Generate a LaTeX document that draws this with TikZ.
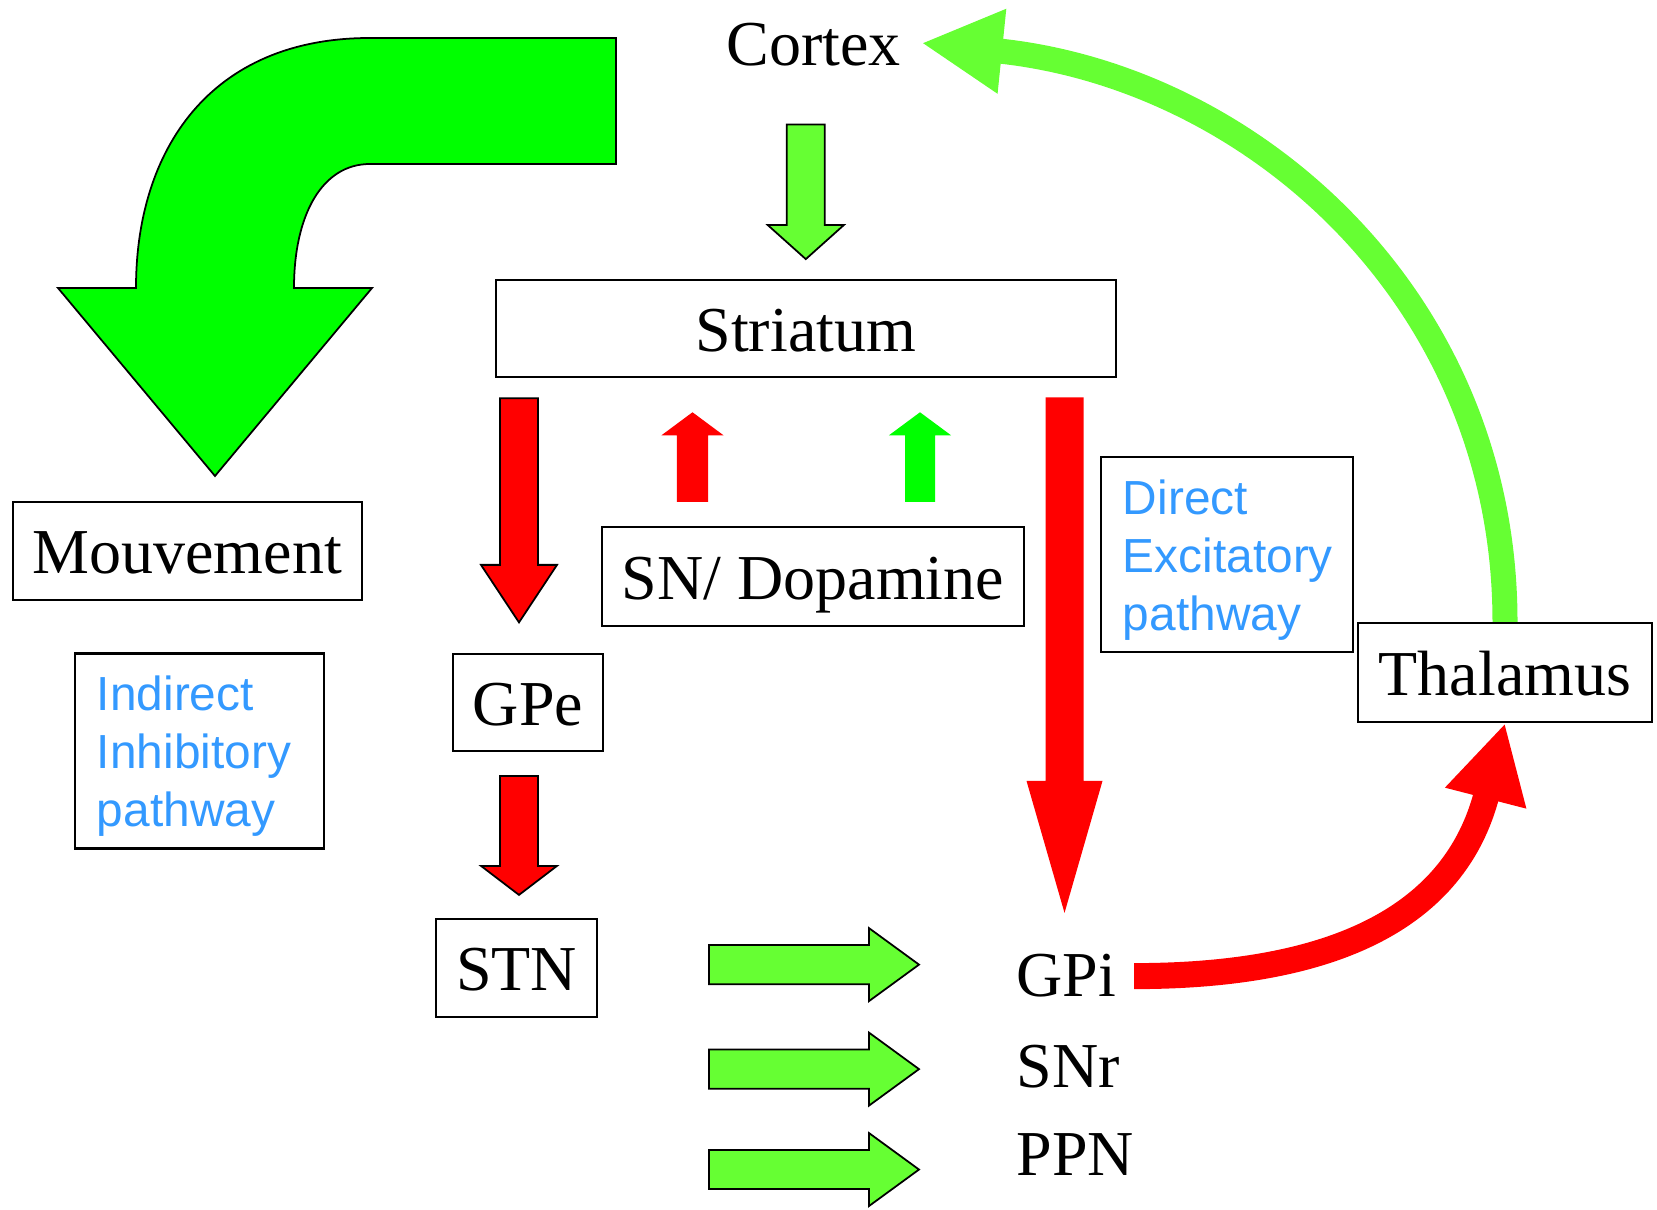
\documentclass[tikz,border=0pt]{standalone}
\usepackage{fontspec}
\setmainfont{Liberation Serif}
\setsansfont{Liberation Sans}
\usetikzlibrary{arrows.meta, calc}
\definecolor{ltgreen}{RGB}{102,255,51}
\definecolor{fullgreen}{RGB}{0,255,0}
\definecolor{pathblue}{RGB}{51,153,255}
% block arrows: style, tail, tip, half shaft, half head, head length
\newcommand{\vblk}[6]{%
  \path[#1] let \p1=(#2), \p2=(#3), \n1={sign(\y2-\y1)} in
    ({\x2-#4},\y1) -- ({\x2+#4},\y1) -- ({\x2+#4},{\y2-(\n1)*#6}) -- ({\x2+#5},{\y2-(\n1)*#6})
    -- (\p2) -- ({\x2-#5},{\y2-(\n1)*#6}) -- ({\x2-#4},{\y2-(\n1)*#6}) -- cycle;}
\newcommand{\hblk}[6]{%
  \path[#1] let \p1=(#2), \p2=(#3), \n1={sign(\x2-\x1)} in
    (\x1,{\y2-#4}) -- (\x1,{\y2+#4}) -- ({\x2-(\n1)*#6},{\y2+#4}) -- ({\x2-(\n1)*#6},{\y2+#5})
    -- (\p2) -- ({\x2-(\n1)*#6},{\y2-#5}) -- ({\x2-(\n1)*#6},{\y2-#4}) -- cycle;}

\begin{document}
\begin{tikzpicture}[x=0.01cm, y=-0.01cm, font=\fontsize{18.2}{21.8}\selectfont,
        box/.style={draw, line width=0.6pt, inner sep=0pt, text height=0.45cm, text depth=0pt},
        pathbox/.style={draw, line width=0.6pt, align=left, inner xsep=0.22cm, text=pathblue,
            text height=0.455cm, font=\sffamily\fontsize{13.6}{16.5}\selectfont},
        lbl/.style={anchor=base west, inner sep=0.17cm},
        outlined/.style={draw=black, line width=0.5pt},
        redblk/.style={outlined, fill=red},
        ltgreenblk/.style={outlined, fill=ltgreen},
        redflat/.style={fill=red},
        greenflat/.style={fill=fullgreen},
        arcgreen/.style={draw=ltgreen, line width=0.25cm, -{Triangle[length=0.81cm, width=0.79cm]}},
        arcred/.style={draw=red, line width=0.26cm, -{Triangle[length=0.775cm, width=0.78cm]}}]
    \useasboundingbox (0,0) rectangle (1657,1210);
    % nodes
    \node[inner xsep=0.2cm, text height=0.45cm, text depth=0pt] (cortex) at (813.5,43) {Cortex};
    \node[box, minimum width=6.20cm, minimum height=0.97cm] (striatum) at (805.8,328.7) {Striatum};
    \node[box, minimum width=3.49cm, minimum height=0.98cm] (mouv) at (187.3,551) {Mouvement};
    \node[box, minimum width=4.22cm, minimum height=0.99cm] (sndopa) at (813,576.5) {SN/ Dopamine};
    \node[box, minimum width=1.50cm, minimum height=0.97cm] (gpe) at (528,702.5) {GPe};
    \node[box, minimum width=1.61cm, minimum height=0.98cm] (stn) at (516.5,968) {STN};
    \node[box, minimum width=2.94cm, minimum height=0.99cm] (thal) at (1505,672.5) {Thalamus};
    \node[pathbox, minimum height=1.94cm, text width=2.05cm] (indirect) at (199.5,751)
        {Indirect\\Inhibitory\\pathway};
    \node[pathbox, minimum height=1.95cm, text width=2.08cm] (direct) at (1227,554.5)
        {Direct\\Excitatory\\pathway};
    \node[lbl] (gpi) at (999,997) {GPi};
    \node[lbl] (snr) at (999,1088) {SNr};
    \node[lbl] (ppn) at (999,1176) {PPN};
    % movement output
    \draw[outlined, fill=fullgreen] (616,38) -- (616,164) -- (370,164)
        .. controls (322,164) and (294,215) .. (294,288) -- (372,288) -- (215,476)
        -- (58,288) -- (136,288) .. controls (136,150) and (210,38) .. (370,38) -- cycle;
    % block arrows
    \vblk{ltgreenblk}{$(cortex.south)+(0,46.5)$}{$(striatum.north)+(0,-20)$}{0.19cm}{0.38cm}{0.34cm}
    \vblk{redblk}{$(striatum.south)+(0,20)$}{$(gpe.north)+(-9,-30.5)$}{0.19cm}{0.38cm}{0.575cm}
    \vblk{redblk}{$(gpe.south)+(0,24)$}{$(stn.north)+(2.5,-23)$}{0.19cm}{0.38cm}{0.29cm}
    \vblk{redflat}{$(striatum.south)+(0,19)$}{$(gpi.north)+(-2,-24)$}{0.19cm}{0.38cm}{1.32cm}
    \vblk{redflat}{$(sndopa.north)+(0,-24)$}{$(striatum.south)+(-113.3,34)$}{0.155cm}{0.31cm}{0.23cm}
    \vblk{greenflat}{$(sndopa.north)+(0,-24)$}{$(striatum.south)+(114.2,34)$}{0.15cm}{0.31cm}{0.23cm}
    \hblk{ltgreenblk}{$(stn.east)+(111,0)$}{$(gpi.west)+(-80,-11.5)$}{0.195cm}{0.365cm}{0.50cm}
    \hblk{ltgreenblk}{$(stn.east)+(111,0)$}{$(snr.west)+(-80,2)$}{0.195cm}{0.365cm}{0.50cm}
    \hblk{ltgreenblk}{$(stn.east)+(111,0)$}{$(ppn.west)+(-80,14.5)$}{0.195cm}{0.365cm}{0.50cm}
    % loops back
    \draw[arcgreen] (thal.north) .. controls +(0,-323) and +(331,34) .. (cortex.east);
    \draw[arcred] (gpi.east) .. controls +(200,0) and +(-50,194) .. (thal.south);
\end{tikzpicture}
\end{document}
